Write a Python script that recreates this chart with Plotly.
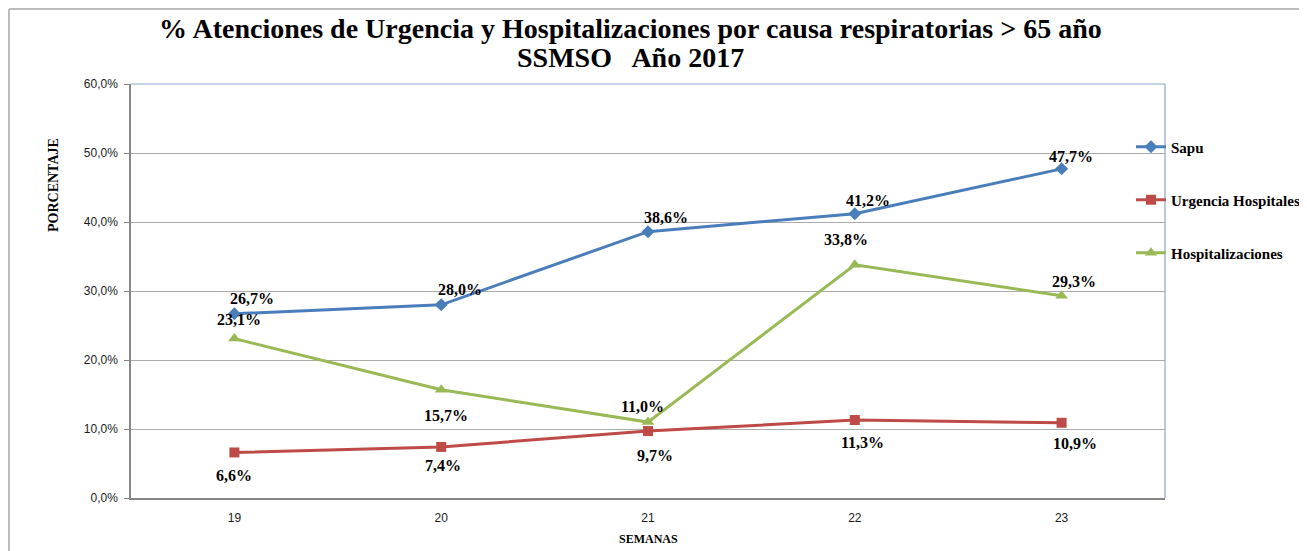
import plotly.graph_objects as go

# semanas epidemiologicas
semanas = [19, 20, 21, 22, 23]
sapu = [26.7, 28.0, 38.6, 41.2, 47.7]
urgencia_hospitales = [6.6, 7.4, 9.7, 11.3, 10.9]
hospitalizaciones = [23.1, 15.7, 11.0, 33.8, 29.3]

y_ticks = [0, 10, 20, 30, 40, 50, 60]
y_ticktext = [f"{v:.1f}%".replace(".", ",") for v in y_ticks]

# desplazamiento de etiquetas (px), como quedaron en la planilla
off_sapu = [(18, 15), (19, 15), (18, 14), (13, 13), (9, 12)]
off_urg = [(0, -23), (2, -19), (7, -24), (8, -22), (13, -21)]
off_hosp = [(5, 19), (5, -26), (-6, 16), (-9, 25), (12, 14)]

SERIF = "Liberation Serif"
SANS = "Liberation Sans"

# la pagina deja 8px de margen al cuerpo
OFF = 8
W, H = 1307, 551
# area de trazado (pixeles de la imagen)
L, R, T, B = 131 - OFF, 1165 - OFF, 84 - OFF, 498 - OFF


def px_x(px):
    return (px - OFF - L) / (R - L)


def px_y(py):
    return (B - (py - OFF)) / (B - T)


series = [
    ("Sapu", sapu, "#4A7EBB", "diamond", 10, off_sapu, "legend2", 147),
    ("Urgencia Hospitales", urgencia_hospitales, "#BE4B48", "square", 10, off_urg, "legend3", 200),
    ("Hospitalizaciones", hospitalizaciones, "#98B954", "triangle-up", 11, off_hosp, "legend4", 253),
]

fig = go.Figure()
annotations = []
legends = {}
leg_font = dict(family=SERIF, size=15, color="#000000", weight="bold")
for name, vals, color, symbol, msize, offs, leg, leg_py in series:
    fig.add_trace(
        go.Scatter(
            x=semanas,
            y=vals,
            name=name,
            mode="lines+markers",
            line=dict(color=color, width=3),
            marker=dict(symbol=symbol, size=msize, color=color),
            legend=leg,
            hoverinfo="skip",
        )
    )
    legends[leg] = dict(
        x=px_x(1131), y=px_y(leg_py), xanchor="left", yanchor="middle",
        font=leg_font, bgcolor="rgba(0,0,0,0)", itemwidth=30,
    )
    for xv, yv, (dx, dy) in zip(semanas, vals, offs):
        annotations.append(
            dict(
                x=xv,
                y=yv,
                xref="x",
                yref="y",
                text=f"{yv:.1f}%".replace(".", ","),
                showarrow=False,
                xshift=dx,
                yshift=dy,
                font=dict(family=SERIF, size=16, color="#000000", weight="bold"),
            )
        )

title_font = dict(family=SERIF, size=28, color="#000000", weight="bold")
texts = [
    ("% Atenciones de Urgencia y Hospitalizaciones por causa respiratorias > 65 año",
     630, 28, 0, title_font),
    ("SSMSO\u00a0\u00a0 Año 2017", 630, 58, 0, title_font),
    ("PORCENTAJE", 53, 185, -90, dict(family=SERIF, size=14, color="#000000", weight="bold")),
    ("SEMANAS", 648, 539, 0, dict(family=SERIF, size=12, color="#000000", weight="bold")),
]
for txt, tx, ty, ang, fnt in texts:
    annotations.append(
        dict(
            text=txt, x=px_x(tx), y=px_y(ty), textangle=ang,
            xref="paper", yref="paper", xanchor="center", yanchor="middle",
            showarrow=False, font=fnt,
        )
    )

# bordes del grafico (lo mas cerca posible del borde) y del area de trazado
EDGE = OFF + 1
shapes = [
    dict(type="line", xref="paper", yref="paper", x0=px_x(EDGE), x1=px_x(1330), y0=px_y(EDGE), y1=px_y(EDGE),
         line=dict(color="#A6A6A6", width=1.5)),
    dict(type="line", xref="paper", yref="paper", x0=px_x(EDGE), x1=px_x(EDGE), y0=px_y(580), y1=px_y(EDGE),
         line=dict(color="#A6A6A6", width=1.5)),
    dict(type="line", xref="paper", yref="paper", x0=0, x1=1, y0=1, y1=1,
         line=dict(color="#8AA6CE", width=1.2)),
    dict(type="line", xref="paper", yref="paper", x0=1, x1=1, y0=0, y1=1,
         line=dict(color="#8AA6CE", width=1.2)),
]

fig.update_layout(
    width=W,
    height=H,
    margin=dict(l=L, r=W - R, t=T, b=H - B, autoexpand=False),
    paper_bgcolor="white",
    plot_bgcolor="white",
    showlegend=True,
    annotations=annotations,
    shapes=shapes,
    **legends,
)

fig.update_xaxes(
    range=[18.5, 23.5],
    tickvals=semanas,
    ticktext=[str(s) for s in semanas],
    showgrid=False,
    zeroline=False,
    showline=True,
    linecolor="#868686",
    linewidth=1.5,
    ticks="",
    ticklabelstandoff=8,
    tickfont=dict(family=SANS, size=12, color="#1a1a1a"),
)
fig.update_yaxes(
    range=[0, 60],
    tickvals=y_ticks,
    ticktext=y_ticktext,
    showgrid=True,
    gridcolor="#ABABAB",
    gridwidth=1,
    zeroline=False,
    showline=True,
    linecolor="#868686",
    linewidth=1.5,
    ticks="outside",
    ticklen=5,
    tickcolor="#868686",
    ticklabelstandoff=4,
    tickfont=dict(family=SANS, size=12, color="#1a1a1a"),
)

fig.write_html("out.html")
